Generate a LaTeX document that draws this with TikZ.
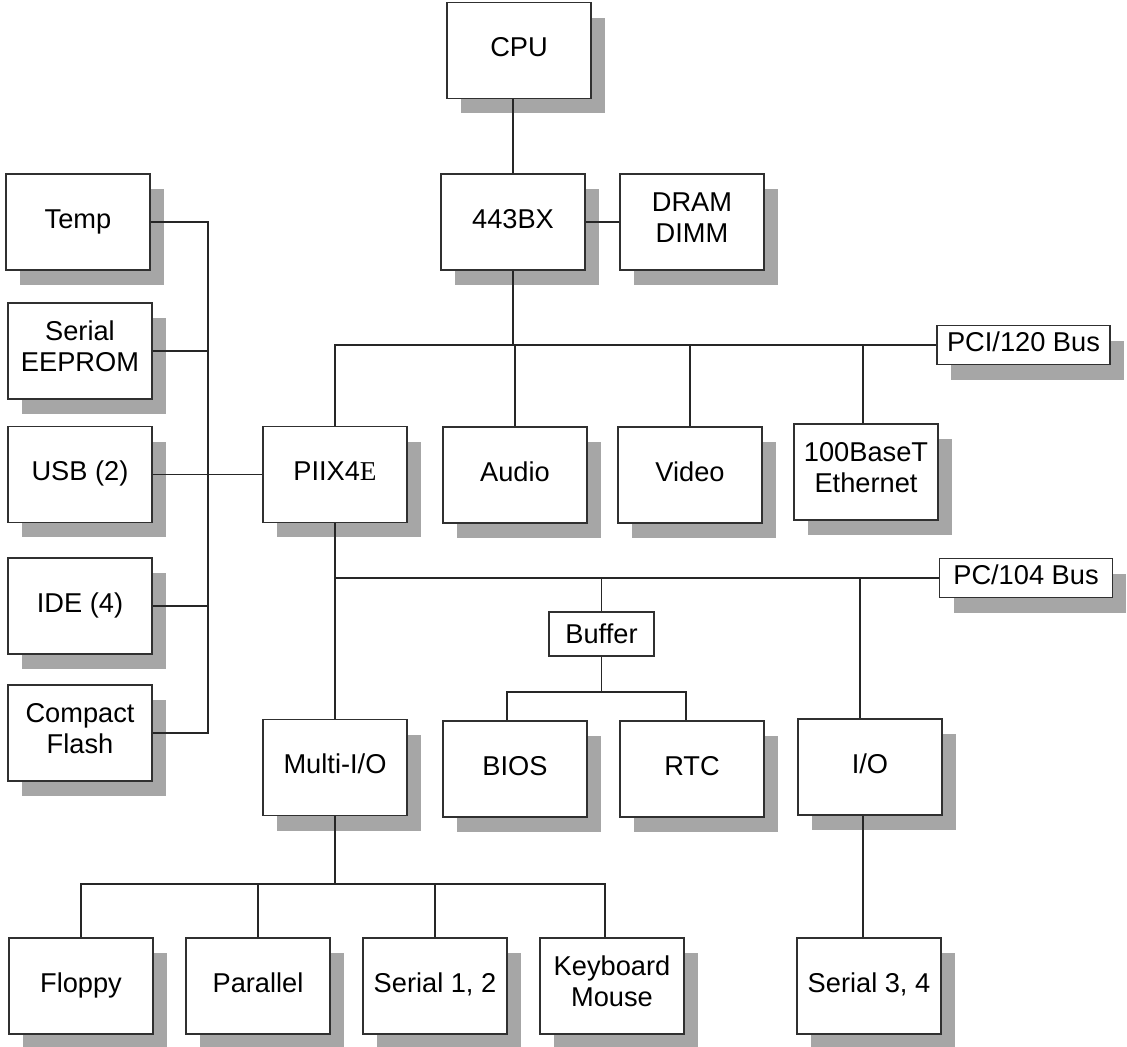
\documentclass[tikz,border=0pt]{standalone}
\usepackage{fontspec}
\setmainfont{Liberation Sans}
\newfontfamily\chipserif{Liberation Serif}
\usetikzlibrary{positioning, calc, shadows}
\definecolor{shadowgrey}{HTML}{A6A6A6}
\definecolor{edgegrey}{HTML}{303030}

\tikzset{
  block/.style={draw=edgegrey, line width=0.7pt, fill=white, minimum width=2.88cm, minimum height=1.92cm,
    align=center, inner sep=2pt, font=\fontsize{15.5}{17.5}\selectfont,
    execute at begin node=\strut, execute at end node=\strut,
    drop shadow={shadow xshift=0.28cm, shadow yshift=-0.3cm, fill=shadowgrey, opacity=1}},
  buslabel/.style={block, minimum width=3.46cm, minimum height=0.78cm},
  plainbox/.style={draw=edgegrey, line width=0.7pt, fill=white, minimum width=2.1cm, minimum height=0.88cm,
    font=\fontsize{15.5}{17.5}\selectfont},
  wire/.style={line width=0.6pt, black!85}
}

\begin{document}
\begin{tikzpicture}[x=0.02cm, y=-0.02cm]
  \path[use as bounding box] (0,0) rectangle (1127,1046);

  % host side
  \node[block] (cpu) at (519,50.5) {CPU};
  \node[block] (nb) at (513,222) {443BX};
  \node[block] (dram) at (692,222) {DRAM\\DIMM};

  % PCI devices
  \node[buslabel] (pcilabel) at (1023.5,345) {PCI/120 Bus};
  \node[block] (piix) at (335,474.5) {PIIX4{\chipserif E}};
  \node[block] (audio) at (515,475) {Audio};
  \node[block] (video) at (690,475) {Video};
  \node[block] (enet) at (866,472) {100BaseT\\Ethernet};

  % left column off the PIIX4E
  \node[block] (temp) at (78,222) {Temp};
  \node[block] (eeprom) at (80,351) {Serial\\EEPROM};
  \node[block] (usb) at (80,474.5) {USB (2)};
  \node[block] (ide) at (80,606) {IDE (4)};
  \node[block] (cflash) at (80,733) {Compact\\Flash};
  \coordinate (lbus) at (208,0);

  % PC/104 side
  \node[buslabel] (isalabel) at (1026,578) {PC/104 Bus};
  \node[plainbox] (buffer) at (601.5,634) {Buffer};
  \coordinate (bufbus) at (600,692);
  \node[block] (mio) at (335,767.5) {Multi-I/O};
  \node[block] (bios) at (515,769) {BIOS};
  \node[block] (rtc) at (692,769) {RTC};
  \node[block] (io) at (870,767) {I/O};

  % bottom row
  \coordinate (miobus) at (333,884);
  \node[block] (floppy) at (81,986) {Floppy};
  \node[block] (parallel) at (258,986) {Parallel};
  \node[block] (ser12) at (435,986) {Serial 1, 2};
  \node[block] (kbd) at (612,986) {Keyboard\\Mouse};
  \node[block] (ser34) at (869,986) {Serial 3, 4};

  % wiring
  \draw[wire] (nb.north) -- (nb.north |- cpu.south);
  \draw[wire] (nb.east) -- (dram.west);

  \draw[wire] (piix.north) |- (pcilabel.west);
  \draw[wire] (nb.south) -- (nb.south |- pcilabel.west);
  \draw[wire] (audio.north) -- (audio.north |- pcilabel.west);
  \draw[wire] (video.north) -- (video.north |- pcilabel.west);
  \draw[wire] ([xshift=-0.06cm]enet.north) -- ([xshift=-0.06cm]enet.north |- pcilabel.west);

  \draw[wire] (temp.east) -- (temp.east -| lbus) -- (cflash.east -| lbus) -- (cflash.east);
  \draw[wire] (eeprom.east) -- (eeprom.east -| lbus);
  \draw[wire] (usb.east) -- (piix.west);
  \draw[wire] (ide.east) -- (ide.east -| lbus);

  \draw[wire] (piix.south) -- (mio.north);
  \draw[wire] (piix.south |- isalabel.west) -- (isalabel.west);
  \draw[wire] (buffer.north) -- (buffer.north |- isalabel.west);
  \draw[wire] ([xshift=-0.2cm]io.north |- isalabel.west) -- ([xshift=-0.2cm]io.north);
  \draw[wire] (buffer.south) -- (buffer.south |- bufbus);
  \draw[wire] ([xshift=-0.16cm]bios.north) -- ([xshift=-0.16cm]bios.north |- bufbus)
    -- ([xshift=-0.12cm]rtc.north |- bufbus) -- ([xshift=-0.12cm]rtc.north);

  \draw[wire] ([xshift=-0.14cm]io.south) -- ([xshift=-0.14cm]io.south |- ser34.north);
  \draw[wire] (mio.south) -- (mio.south |- miobus);
  \draw[wire] (floppy.north) -- (floppy.north |- miobus) -- ([xshift=-0.14cm]kbd.north |- miobus)
    -- ([xshift=-0.14cm]kbd.north);
  \draw[wire] (parallel.north) -- (parallel.north |- miobus);
  \draw[wire] (ser12.north) -- (ser12.north |- miobus);
\end{tikzpicture}
\end{document}
